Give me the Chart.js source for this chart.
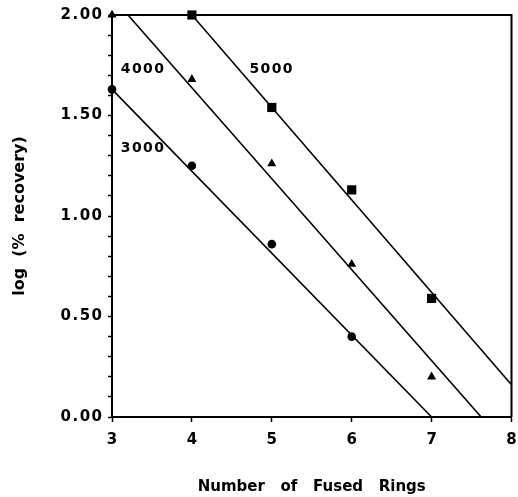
<!DOCTYPE html>
<html>
<head>
<meta charset="utf-8">
<script src="https://cdn.jsdelivr.net/npm/chart.js@4.4.1/dist/chart.umd.min.js"></script>
<style>
html,body{margin:0;padding:0;background:#fff;}
#wrap{width:518px;height:497px;position:relative;}
</style>
</head>
<body>
<div id="wrap"><canvas id="c"></canvas></div>
<script>
// Data
const rec3000X = [3, 4, 5, 6];
const rec3000 = [1.63, 1.25, 0.86, 0.40];          // circles
const rec4000X = [3, 4, 5, 6, 7];
const rec4000 = [2.00, 1.68, 1.26, 0.76, 0.20];    // triangles
const rec5000X = [4, 5, 6, 7];
const rec5000 = [2.00, 1.54, 1.13, 0.59];          // squares

// fitted lines (endpoints)
const fit3000X = [3.0, 7.0], fit3000Y = [1.63, 0.00];
const fit4000X = [3.2, 7.62], fit4000Y = [2.00, 0.00];
const fit5000X = [4.0, 8.0], fit5000Y = [2.00, 0.16];

// curve labels
const curveLabels = ['3000', '4000', '5000'];
const curveLabelX = [3.11, 3.11, 4.72];
const curveLabelY = [1.335, 1.73, 1.73];

const xTitle = 'Number   of   Fused   Rings';
const yTitle = 'log  (%  recovery)';

const HS = '\u200A';
const spaced = s => String(s).split('').join(HS);
const toPts = (xs, ys) => xs.map((x, i) => ({x: x, y: ys[i]}));
const FONT = "'DejaVu Sans', sans-serif";

const framePlugin = {
  id: 'frame',
  afterDraw(chart){
    const ctx = chart.ctx, a = chart.chartArea, scales = chart.scales;
    ctx.save();
    ctx.strokeStyle = '#000000';
    ctx.lineWidth = 2;
    ctx.beginPath();
    ctx.moveTo(a.left, a.top);
    ctx.lineTo(a.right, a.top);
    ctx.lineTo(a.right, a.bottom);
    ctx.stroke();
    ctx.fillStyle = '#000';
    ctx.font = "bold 14px " + FONT;
    ctx.textAlign = 'left';
    ctx.textBaseline = 'middle';
    curveLabels.forEach((t, i) => {
      ctx.fillText(spaced(t), scales.x.getPixelForValue(curveLabelX[i]), scales.y.getPixelForValue(curveLabelY[i]));
    });
    ctx.restore();
  }
};

const lineDs = (xs, ys) => ({
  type: 'line', data: toPts(xs, ys), borderColor: '#000', borderWidth: 1.6,
  pointRadius: 0, fill: false, clip: false, tension: 0
});
const markDs = (xs, ys, style, r) => ({
  type: 'scatter', data: toPts(xs, ys), pointStyle: style, pointRadius: r,
  backgroundColor: '#000', borderColor: '#000', borderWidth: 0, clip: false
});

new Chart(document.getElementById('c'), {
  type: 'scatter',
  data: {
    datasets: [
      lineDs(fit3000X, fit3000Y),
      lineDs(fit4000X, fit4000Y),
      lineDs(fit5000X, fit5000Y),
      markDs(rec3000X, rec3000, 'circle', 4.3),
      markDs(rec4000X, rec4000, 'triangle', 5.2),
      markDs(rec5000X, rec5000, 'rect', 6.5)
    ]
  },
  options: {
    responsive: true,
    maintainAspectRatio: false,
    animation: false,
    layout: {padding: {top: 15, right: 2, left: 0, bottom: 0}},
    plugins: {legend: {display: false}, tooltip: {enabled: false}},
    scales: {
      x: {
        type: 'linear', min: 3, max: 8,
        afterFit(s){ s.height = 80; s.paddingLeft = 0; s.paddingRight = 0; },
        ticks: {stepSize: 1, color: '#000', padding: 9, font: {family: FONT, weight: 'bold', size: 15}},
        grid: {drawOnChartArea: false, color: '#000', tickLength: 5, tickWidth: 1.5},
        border: {color: '#000', width: 2},
        title: {display: true, text: xTitle, color: '#000', padding: {top: 0, bottom: 1},
                font: {family: FONT, weight: 'bold', size: 15}}
      },
      y: {
        type: 'linear', min: 0, max: 2,
        afterFit(s){ s.width = 112; s.paddingTop = 0; s.paddingBottom = 0; },
        ticks: {stepSize: 0.1, autoSkip: false, color: '#000', padding: 6,
                font: {family: FONT, weight: 'bold', size: 15},
                callback(v){ const k = Math.round(v * 10); return (k % 5 === 0) ? spaced(v.toFixed(2)) : ''; }},
        grid: {drawOnChartArea: false, color: '#000', tickLength: 4, tickWidth: 1.5},
        border: {color: '#000', width: 2},
        title: {display: true, text: yTitle, color: '#000', padding: {top: 10, bottom: 0},
                font: {family: FONT, weight: 'bold', size: 16}}
      }
    }
  },
  plugins: [framePlugin]
});
</script>
</body>
</html>
